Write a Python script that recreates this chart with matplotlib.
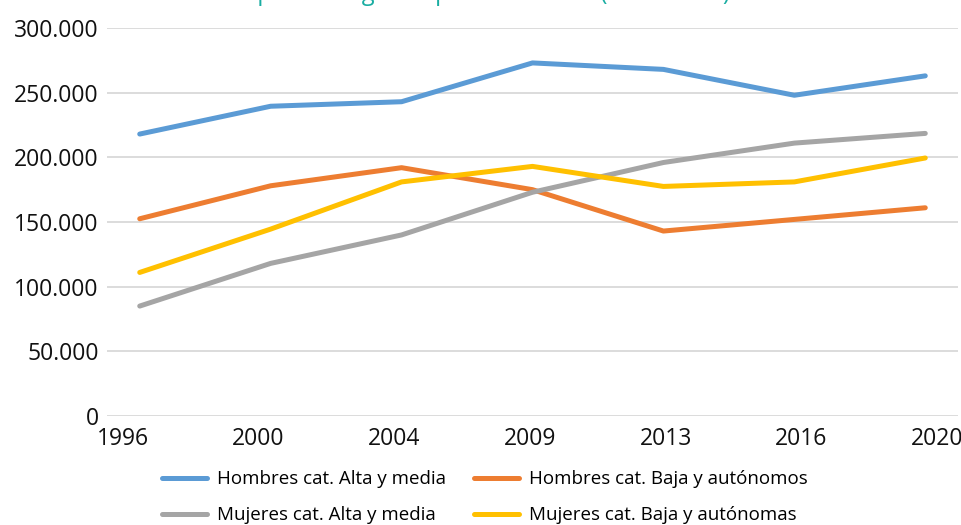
import numpy as np
import matplotlib.pyplot as plt
from matplotlib.ticker import FuncFormatter

# Datos: ocupados por sexo y categoría
anios = ['1996', '2000', '2004', '2009', '2013', '2016', '2020']
hombres_alta = [218000, 239500, 243000, 273000, 268000, 248000, 263000]
hombres_baja = [152500, 178000, 192000, 175000, 143000, 152000, 161000]
mujeres_alta = [85000, 118000, 140000, 173000, 196000, 211000, 218500]
mujeres_baja = [111000, 144500, 181000, 193000, 177500, 181000, 199500]

titulo = 'Ocupación según el puesto laboral (1996-2020)'

plt.rcParams['font.family'] = ['Open Sans', 'DejaVu Sans']

fig = plt.figure(figsize=(9.62, 5.25), dpi=100)
ax = fig.add_axes([107 / 962, 1 - 416 / 525, (958 - 107) / 962, (416 - 28) / 525])

x = np.arange(len(anios))
lw = 3.6
l1, = ax.plot(x, hombres_alta, color='#5B9BD5', lw=lw, solid_capstyle='round', label='Hombres cat. Alta y media')
l2, = ax.plot(x, hombres_baja, color='#ED7D31', lw=lw, solid_capstyle='round', label='Hombres cat. Baja y autónomos')
l3, = ax.plot(x, mujeres_alta, color='#A5A5A5', lw=lw, solid_capstyle='round', label='Mujeres cat. Alta y media')
l4, = ax.plot(x, mujeres_baja, color='#FFC000', lw=lw, solid_capstyle='round', label='Mujeres cat. Baja y autónomas')

ax.set_xlim(-0.25, len(anios) - 0.75)
ax.set_ylim(0, 300000)
ax.set_yticks(np.arange(0, 300001, 50000))
ax.yaxis.set_major_formatter(FuncFormatter(lambda v, p: f'{int(v):,}'.replace(',', '.')))

# etiquetas del eje x repartidas hasta los bordes
ax.set_xticks(np.linspace(-0.13, 6.09, len(anios)))
ax.set_xticklabels(anios)

ax.grid(axis='y', color='#D9D9D9', lw=1.3)
ax.set_axisbelow(True)
for s in ax.spines.values():
    s.set_visible(False)
ax.tick_params(axis='both', length=0, labelsize=16.5, colors='#111111')
ax.tick_params(axis='y', pad=6)
ax.tick_params(axis='x', pad=8)

fig.legend(handles=[l1, l3, l2, l4], loc='center', bbox_to_anchor=(0.504, 0.053),
           ncol=2, frameon=False, fontsize=13.5, handlelength=2.4, handletextpad=0.55,
           columnspacing=1.5, labelspacing=0.95, borderpad=0)

fig.text(0.49, 1.0, titulo, ha='center', va='baseline', color='#1AADA2', fontsize=17)

fig.savefig('out.png', dpi=100)
